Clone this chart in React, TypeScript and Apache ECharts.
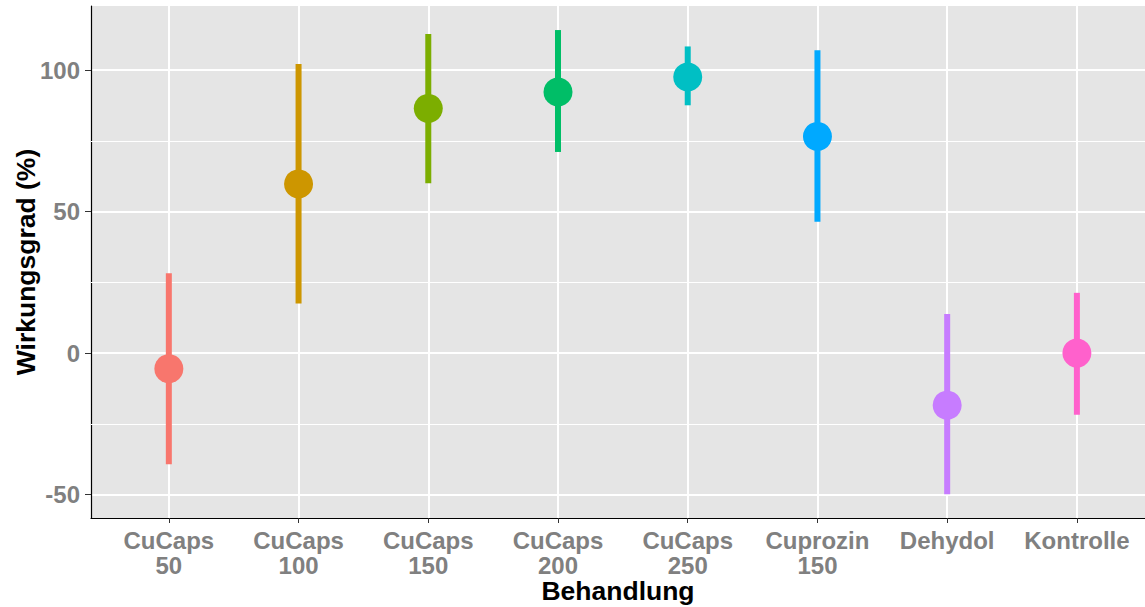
import React, { useEffect, useRef } from "react";
import * as echarts from "echarts";

// Treatments on the x axis (two-line labels where the name carries a dose)
const categories = [
  "CuCaps\n50",
  "CuCaps\n100",
  "CuCaps\n150",
  "CuCaps\n200",
  "CuCaps\n250",
  "Cuprozin\n150",
  "Dehydol",
  "Kontrolle",
];

// Efficacy estimate (%) and its confidence bounds per treatment
const effect = [-5.5, 59.8, 86.5, 92.3, 97.6, 76.6, -18.4, 0.0];
const lowerCI = [-39.3, 17.5, 60.0, 71.1, 87.6, 46.4, -49.9, -21.8];
const upperCI = [28.2, 102.2, 112.8, 114.2, 108.4, 107.1, 13.8, 21.3];

// ggplot-style hue palette, one colour per treatment
const colors = ["#F8766D", "#CD9600", "#7CAE00", "#00BE67", "#00BFC4", "#00A9FF", "#C77CFF", "#FF61CC"];

// Y axis ticks
const yTicks = [-50, 0, 50, 100];
const yMinor = [-25, 25, 75];
const yMin = -58.3;
const yMax = 122.7;

// Visible x range in category index units (the panel runs a little past the right edge)
const xMin = -0.6;
const xMax = 7.525;

const FONT = "'Liberation Sans', Arial, Helvetica, sans-serif";

export default function App() {
  const ref = useRef<HTMLDivElement>(null);

  useEffect(() => {
    const chart = echarts.init(ref.current!, undefined, { renderer: "svg" });
    const idx = categories.map((_, i) => i);

    chart.setOption({
      animation: false,
      backgroundColor: "#ffffff",
      grid: {
        left: 91,
        right: 0,
        top: 6,
        bottom: 89,
        containLabel: false,
        outerBoundsMode: "none",
        show: true,
        backgroundColor: "#E5E5E5",
        borderWidth: 0,
      },
      xAxis: {
        type: "value",
        min: xMin,
        max: xMax,
        name: "Behandlung",
        nameLocation: "middle",
        nameGap: 63,
        nameMoveOverlap: false,
        nameTextStyle: { fontFamily: FONT, fontWeight: "bold", fontSize: 26.5, lineHeight: 20, color: "#000" },
        axisLine: { show: true, onZero: false, lineStyle: { color: "#000", width: 1.2 } },
        axisTick: { show: true, length: 5, lineStyle: { color: "#333", width: 1 }, customValues: idx },
        axisLabel: {
          customValues: idx,
          formatter: (v: number) => categories[Math.round(v)],
          fontFamily: FONT,
          fontWeight: "bold",
          fontSize: 24,
          lineHeight: 25,
          color: "#808080",
          margin: 10,
        },
        splitLine: { show: true, lineStyle: { color: "#ffffff", width: 2 } },
      },
      yAxis: {
        type: "value",
        min: yMin,
        max: yMax,
        name: "Wirkungsgrad (%)",
        nameLocation: "middle",
        nameGap: 52,
        nameMoveOverlap: false,
        nameRotate: 90,
        nameTextStyle: { fontFamily: FONT, fontWeight: "bold", fontSize: 26.5, color: "#000" },
        axisLine: { show: true, onZero: false, lineStyle: { color: "#000", width: 1.2 } },
        axisTick: { show: true, length: 6, lineStyle: { color: "#333", width: 1 }, customValues: yTicks },
        axisLabel: {
          customValues: yTicks,
          fontFamily: FONT,
          fontWeight: "bold",
          fontSize: 24,
          color: "#808080",
          margin: 11,
        },
        splitLine: { show: true, lineStyle: { color: "#ffffff", width: 2 } },
      },
      series: [
        {
          // minor horizontal grid lines
          type: "line",
          data: [],
          z: 1,
          silent: true,
          markLine: {
            z: 1,
            silent: true,
            symbol: "none",
            animation: false,
            label: { show: false },
            lineStyle: { color: "#ffffff", width: 1, type: "solid" },
            data: yMinor.map((v) => ({ yAxis: v })),
          },
        },
        {
          // confidence interval bars
          type: "custom",
          z: 2,
          silent: true,
          data: idx.map((i) => [i, lowerCI[i], upperCI[i]]),
          encode: { x: 0, y: [1, 2] },
          renderItem: (params: any, api: any) => {
            const x = api.value(0);
            const p1 = api.coord([x, api.value(1)]);
            const p2 = api.coord([x, api.value(2)]);
            return {
              type: "line",
              shape: { x1: p1[0], y1: p1[1], x2: p2[0], y2: p2[1] },
              style: { stroke: colors[params.dataIndex], lineWidth: 6 },
            };
          },
        },
        {
          // point estimates
          type: "scatter",
          z: 3,
          silent: true,
          symbol: "circle",
          symbolSize: 29,
          data: idx.map((i) => ({ value: [i, effect[i]], itemStyle: { color: colors[i], opacity: 1 } })),
        },
      ],
    });

    return () => chart.dispose();
  }, []);

  return (
    <div
      ref={ref}
      style={{ position: "absolute", left: 0, top: 0, width: 1145, height: 607 }}
    />
  );
}
